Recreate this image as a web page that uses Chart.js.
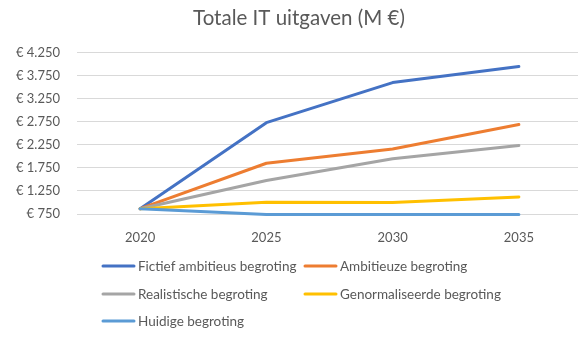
<!DOCTYPE html>
<html lang="nl">
<head>
<meta charset="UTF-8" />
<title>Totale IT uitgaven</title>
<script src="https://cdn.jsdelivr.net/npm/chart.js@4.4.0/dist/chart.umd.min.js"></script>
<style>
html,body{margin:0;padding:0;background:#fff;overflow:hidden}
#wrap{width:582px;height:339px;position:relative}
</style>
</head>
<body>
<div id="wrap"><canvas id="itChart"></canvas></div>

<script>
/* ---------- data ---------- */
const YEARS = ['2020','2025','2030','2035'];
const FICTIEF       = [865, 2730, 3600, 3950];
const AMBITIEUS     = [865, 1850, 2160, 2690];
const REALISTISCH   = [865, 1475, 1950, 2235];
const GENORMALISEERD= [865, 1005, 1000, 1120];
const HUIDIG        = [865,  740,  740,  740];

const Y_MIN = 750, Y_MAX = 4250, Y_STEP = 500;

const GREY = '#595959';
const FONT = 'Lato, "Open Sans", sans-serif';

const euro = v => '€ ' + String(v).replace(/\B(?=(\d{3})+(?!\d))/g, '.');

const mk = (label, data, color, order) => ({
  label, data, borderColor: color, backgroundColor: color,
  borderWidth: 3, pointRadius: 0, tension: 0, fill: false,
  borderCapStyle: 'round', borderJoinStyle: 'round', clip: false, order
});

/* legend in two columns, Excel style */
const colLegend = {
  id: 'colLegend',
  afterDraw(chart) {
    const ctx = chart.ctx, a = chart.chartArea;
    const cols = [a.left + 25, a.left + 227];
    const rows = [266, 294, 321];
    ctx.save();
    ctx.font = '13.5px ' + FONT;
    ctx.fillStyle = GREY;
    ctx.textBaseline = 'middle';
    chart.data.datasets.forEach((ds, i) => {
      const x = cols[i % 2], y = rows[Math.floor(i / 2)];
      ctx.strokeStyle = ds.borderColor;
      ctx.lineWidth = 3;
      ctx.lineCap = 'round';
      ctx.beginPath(); ctx.moveTo(x + 1, y); ctx.lineTo(x + 32, y); ctx.stroke();
      ctx.fillText(ds.label, x + 36, y + 0.5);
    });
    ctx.restore();
  }
};

new Chart(document.getElementById('itChart'), {
  type: 'line',
  data: {
    labels: YEARS,
    datasets: [
      mk('Fictief ambitieus begroting', FICTIEF, '#4472C4', 4),
      mk('Ambitieuze begroting', AMBITIEUS, '#ED7D31', 3),
      mk('Realistische begroting', REALISTISCH, '#A5A5A5', 2),
      mk('Genormaliseerde begroting', GENORMALISEERD, '#FFC000', 1),
      mk('Huidige begroting', HUIDIG, '#5B9BD5', 0)
    ]
  },
  options: {
    responsive: true,
    maintainAspectRatio: false,
    animation: false,
    layout: { padding: { left: 16, right: 0, top: 0, bottom: 93 } },
    plugins: {
      legend: { display: false },
      tooltip: { enabled: false },
      title: {
        display: true, text: 'Totale IT uitgaven (M €)', color: GREY,
        font: { family: FONT, size: 20.5, weight: 'normal' },
        padding: { top: 6, bottom: 22 }
      }
    },
    scales: {
      x: {
        offset: true,
        grid: { display: false, drawTicks: false },
        border: { display: false },
        ticks: { color: GREY, font: { family: FONT, size: 13 }, padding: 16 },
        afterFit: s => { s.height = 32; }
      },
      y: {
        min: Y_MIN, max: Y_MAX,
        grid: { color: '#D9D9D9', lineWidth: 1, drawTicks: false },
        border: { display: false },
        ticks: { stepSize: Y_STEP, color: GREY, font: { family: FONT, size: 13 },
                 padding: 17, callback: v => euro(v) },
        afterFit: s => { s.width = 61; }
      }
    }
  },
  plugins: [colLegend]
});
</script>
</body>
</html>
